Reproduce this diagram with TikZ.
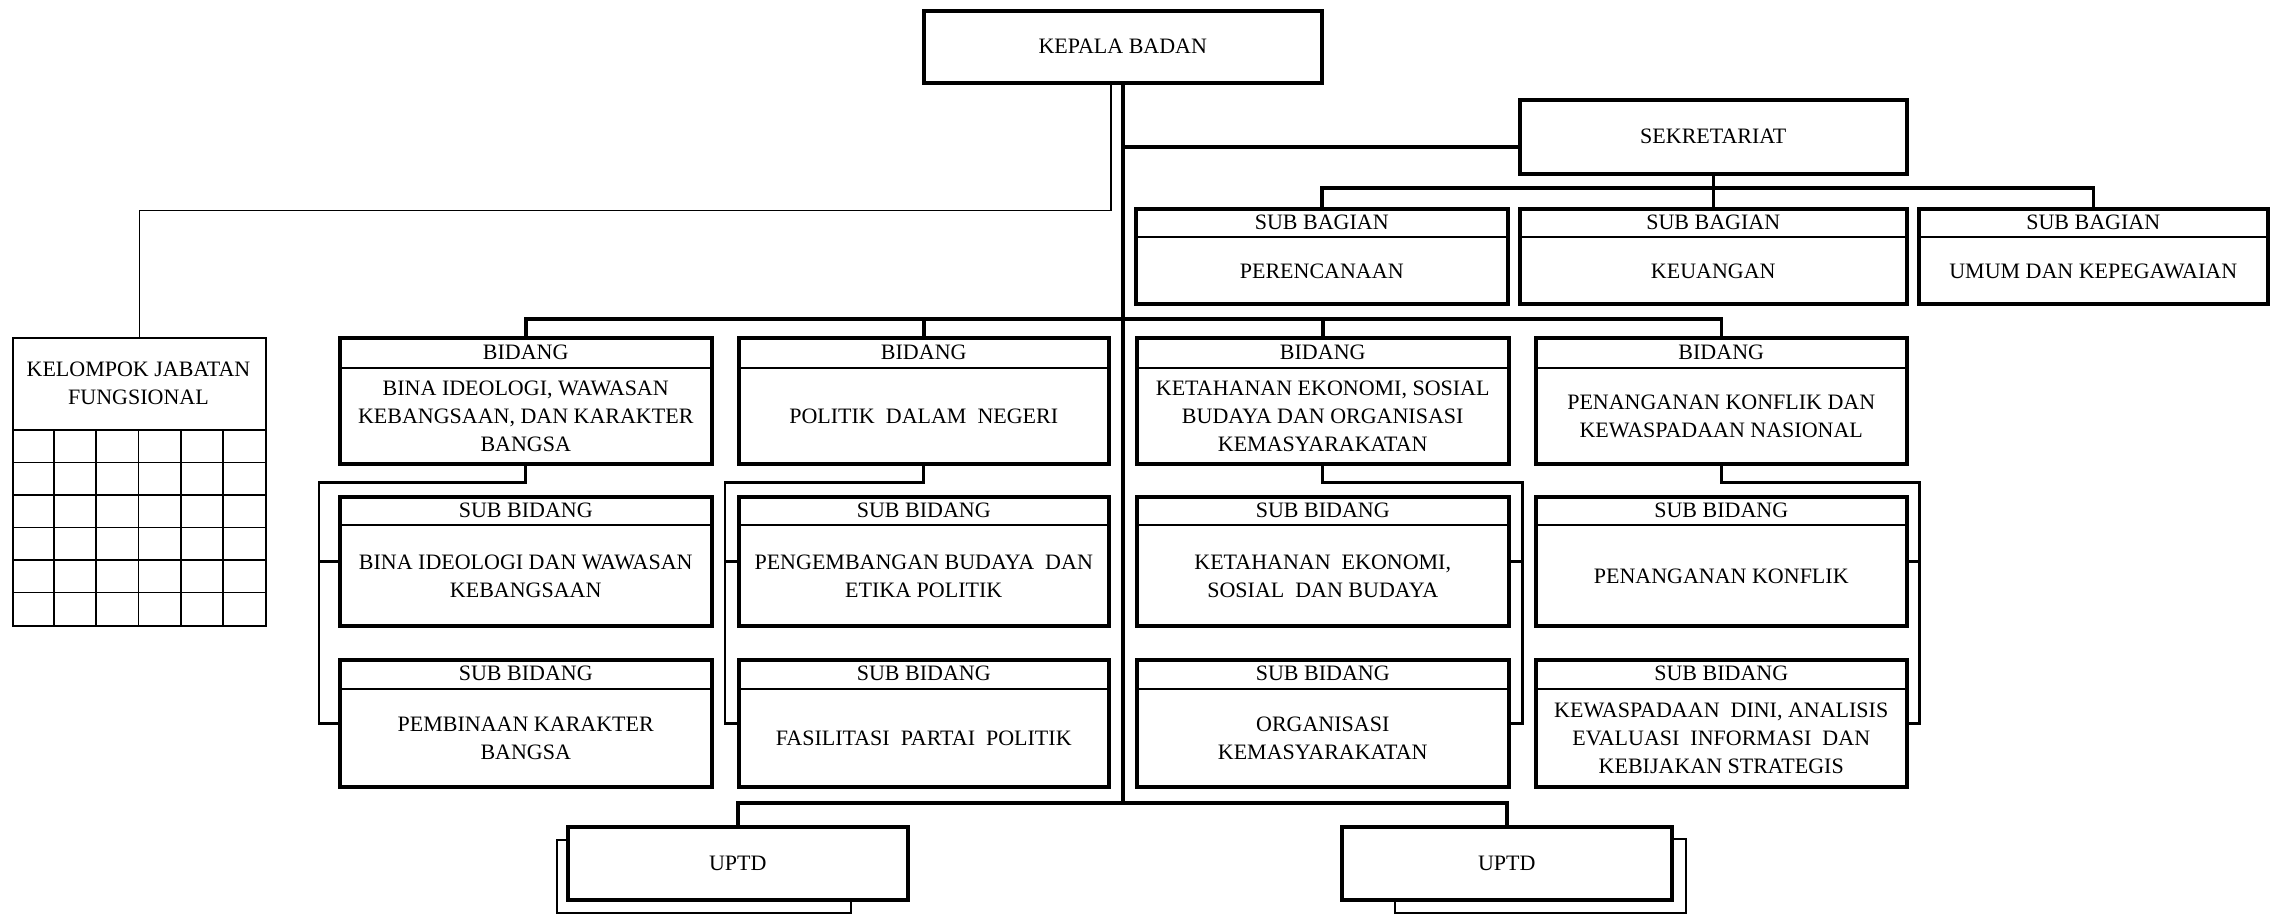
\documentclass[tikz,border=0pt]{standalone}
\usepackage{fontspec}
\setmainfont{Liberation Serif}
\usetikzlibrary{calc}

\tikzset{
  orgbox/.style={draw, line width=3.5pt, inner sep=0pt, fill=white},
  backbox/.style={draw, line width=2pt, inner sep=0pt, fill=white},
  kjfbox/.style={draw, line width=1.8pt, inner sep=0pt},
  txt/.style={align=center, inner sep=0pt, font=\fontsize{22}{28}\selectfont},
  divider/.style={line width=2.2pt},
  conn/.style={line width=3.5pt},
  subconn/.style={line width=2.6pt},
  thinconn/.style={line width=1.8pt},
}

% name, left, top, width, height, header height, header, body
\newcommand{\orgunit}[8]{%
  \node[orgbox, minimum width=#4pt, minimum height=#5pt, anchor=north west] (#1) at (#2,#3) {};
  \draw[divider] ([yshift=-#6pt]#1.north west) -- ([yshift=-#6pt]#1.north east);
  \node[txt] (#1h) at ([yshift=-#6pt/2]#1.north) {#7};
  \node[txt] (#1b) at ($(#1.south)!0.5!([yshift=-#6pt]#1.north)$) {#8};
}

\begin{document}
\begin{tikzpicture}[x=1pt, y=-1pt]
\path[use as bounding box, fill=white] (0,0) rectangle (2270,914);

% top
\node[orgbox, txt, minimum width=398pt, minimum height=72pt, anchor=north west] (kb) at (922,9) {KEPALA BADAN};
\node[orgbox, txt, minimum width=387pt, minimum height=74pt, anchor=north west] (sek) at (1518,98) {SEKRETARIAT};

% sub bagian
\orgunit{sbp}{1134}{207}{372}{95}{30}{SUB BAGIAN}{PERENCANAAN}
\orgunit{sbk}{1518}{207}{387}{95}{30}{SUB BAGIAN}{KEUANGAN}
\orgunit{sbu}{1917}{207}{349}{95}{30}{SUB BAGIAN}{UMUM DAN KEPEGAWAIAN}

% bidang
\orgunit{b1}{338}{336}{372}{126}{32}{BIDANG}{BINA IDEOLOGI, WAWASAN\\KEBANGSAAN, DAN KARAKTER\\BANGSA}
\orgunit{b2}{737}{336}{370}{126}{32}{BIDANG}{POLITIK\ \ DALAM\ \ NEGERI}
\orgunit{b3}{1135}{336}{372}{126}{32}{BIDANG}{KETAHANAN EKONOMI, SOSIAL\\BUDAYA DAN ORGANISASI\\KEMASYARAKATAN}
\orgunit{b4}{1534}{336}{371}{126}{32}{BIDANG}{PENANGANAN KONFLIK DAN\\KEWASPADAAN NASIONAL}

% sub bidang
\orgunit{s11}{338}{495}{372}{129}{30}{SUB BIDANG}{BINA IDEOLOGI DAN WAWASAN\\KEBANGSAAN}
\orgunit{s21}{737}{495}{370}{129}{30}{SUB BIDANG}{PENGEMBANGAN BUDAYA\ \ DAN\\ETIKA POLITIK}
\orgunit{s31}{1135}{495}{372}{129}{30}{SUB BIDANG}{KETAHANAN\ \ EKONOMI,\\SOSIAL\ \ DAN BUDAYA}
\orgunit{s41}{1534}{495}{371}{129}{30}{SUB BIDANG}{PENANGANAN KONFLIK}
\orgunit{s12}{338}{658}{372}{127}{31}{SUB BIDANG}{PEMBINAAN KARAKTER\\BANGSA}
\orgunit{s22}{737}{658}{370}{127}{31}{SUB BIDANG}{FASILITASI\ \ PARTAI\ \ POLITIK}
\orgunit{s32}{1135}{658}{372}{127}{31}{SUB BIDANG}{ORGANISASI\\KEMASYARAKATAN}
\orgunit{s42}{1534}{658}{371}{127}{31}{SUB BIDANG}{KEWASPADAAN\ \ DINI, ANALISIS\\EVALUASI\ \ INFORMASI\ \ DAN\\KEBIJAKAN STRATEGIS}

% kelompok jabatan fungsional
\node[kjfbox, minimum width=253pt, minimum height=288pt, anchor=north west] (kjf) at (12,337) {};
\node[txt] (kjft) at (138.5,383) {KELOMPOK JABATAN\\FUNGSIONAL};
\foreach \r in {0,...,5}
  \draw[thinconn] (12,{430+\r*32.5}) -- (265,{430+\r*32.5});
\foreach \c in {1,...,5}
  \draw[thinconn] ({12+\c*42.17},430) -- ({12+\c*42.17},625);

% uptd
\node[backbox, minimum width=294pt, minimum height=73pt, anchor=north west] (u1back) at (556,839) {};
\node[orgbox, txt, minimum width=340pt, minimum height=73pt, anchor=north west] (u1) at (566,825) {UPTD};
\node[backbox, minimum width=291pt, minimum height=74pt, anchor=north west] (u2back) at (1394,838) {};
\node[orgbox, txt, minimum width=330pt, minimum height=73pt, anchor=north west] (u2) at (1340,825) {UPTD};

% connectors
\coordinate (uline) at (738,803);
\coordinate (sekjoin) at (1121,147);
\draw[conn] (kb.south) -- (kb.south |- uline);
\draw[thinconn] ([xshift=-12pt]kb.south) -- ++(0,126) -| (kjf.north);
\draw[conn] (sekjoin) -- (sekjoin -| sek.west);
\draw[conn] (sek.south) -- (sbk.north);
\draw[conn] (sbp.north) -- ++(0,-19) -| (sbu.north);
\draw[conn] (b1.north) -- ++(0,-17) -| (b4.north);
\draw[conn] (b2.north) -- ++(0,-17);
\draw[conn] (b3.north) -- ++(0,-17);
\draw[subconn] (b1.south) -- ++(0,17) -| ([xshift=-19pt]s12.west) -- (s12.west);
\draw[subconn] (s11.west) -- ++(-19,0);
\draw[subconn] (b2.south) -- ++(0,17) -| ([xshift=-12pt]s22.west) -- (s22.west);
\draw[subconn] (s21.west) -- ++(-12,0);
\draw[subconn] (b3.south) -- ++(0,17) -| ([xshift=12pt]s32.east) -- (s32.east);
\draw[subconn] (s31.east) -- ++(12,0);
\draw[subconn] (b4.south) -- ++(0,17) -| ([xshift=11pt]s42.east) -- (s42.east);
\draw[subconn] (s41.east) -- ++(11,0);
\draw[conn] (u1.north) -- (u1.north |- uline) -| (u2.north);
\end{tikzpicture}
\end{document}
